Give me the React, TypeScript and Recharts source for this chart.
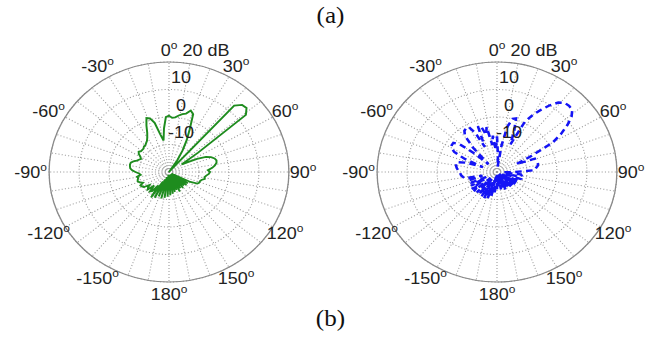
import React from "react";
import { RadarChart, Radar, PolarGrid, PolarAngleAxis, PolarRadiusAxis } from "recharts";

// angle in degrees, clockwise from the top (0 = broadside)
const ANGLES = [
  0, 3, 6, 9, 12, 15, 18, 21, 24, 27, 30, 33, 36, 39, 42, 45, 48, 51, 54, 57,
  60, 63, 66, 69, 72, 75, 78, 81, 84, 87, 90, 93, 96, 99, 102, 105, 108, 111, 114, 117,
  120, 123, 126, 129, 132, 135, 138, 141, 144, 147, 150, 153, 156, 159, 162, 165, 168, 171, 174, 177,
  180, 183, 186, 189, 192, 195, 198, 201, 204, 207, 210, 213, 216, 219, 222, 225, 228, 231, 234, 237,
  240, 243, 246, 249, 252, 255, 258, 261, 264, 267, 270, 273, 276, 279, 282, 285, 288, 291, 294, 297,
  300, 303, 306, 309, 312, 315, 318, 321, 324, 327, 330, 333, 336, 339, 342, 345, 348, 351, 354, 357,
];

// (a) solid green pattern, dB
const GREEN = [
  0.5, -0.3, 0, 0.8, 1.5, 2, 3.5, 2.5, -3, -7, -11, -15, -20, -19, 12.5, 14.5, 14.8, 13, -8, -15,
  -13, -9.5, -6.5, -5, -4, -3.6, -3.8, -4.5, -5.5, -7, -6.3, -6.7, -7.5, -8, -7.8, -8.8, -9.2, -9.2, -9.6, -12,
  -18, -12.5, -19, -12.5, -18, -13, -19, -12.5, -19, -13, -19, -12, -19, -13, -19, -12.5, -19, -12, -19, -11.5,
  -19, -11, -19, -10.5, -18, -10, -18, -10.5, -17, -9.5, -16, -9, -14, -11, -10.5, -13, -10.5, -11, -12, -10,
  -9.5, -9.3, -10.5, -9.5, -9, -9.2, -9.5, -9.2, -10.5, -10, -8.8, -7.7, -7, -6.8, -6.7, -6.8, -7.5, -8.5, -9, -9.5,
  -9, -8, -7.5, -8, -8, -8, -7.5, -7.5, -7, -6.5, -5.5, -4, -1.5, 1, 0.5, -1.5, -6, -8.4, -4, 0,
];

// (b) dashed blue pattern, dB
const BLUE = [
  -7, -14, -18, -10, -3, 0, 0.5, -4, -9, 0.5, 4, 7, 10, 12.5, 13.8, 14, 13.8, 12, 9, 5.5,
  1.5, -7, -13, -6.5, -6.5, -6, -6, -6.3, -7, -7.5, -14, -18, -12, -11.7, -12, -17, -11.5, -11.5, -12, -18,
  -12.5, -19, -12.5, -18, -13, -19, -12.6, -18, -13, -19, -13.5, -18, -13, -19, -14, -19, -13.5, -18, -14, -19,
  -13, -18, -12, -19, -11, -17, -10, -16, -9.5, -15, -9.7, -17, -10, -16, -10, -17, -9.6, -12, -9.6, -15,
  -10, -16, -10.5, -10, -10, -15, -9, -8.5, -8, -7.8, -7.6, -7, -6.5, -6.2, -6, -6.1, -9, -15, -8, -4,
  -2.5, -2, -2, -4, -10, -16, -8, -3, -1.5, -1, -1.1, -4, -10, -2.5, -2.3, -6, -3.3, -10, -6.7, -12,
];

const SPOKES = [0, 10, 20, 30, 40, 50, 60, 70, 80, 90, 100, 110, 120, 130, 140, 150, 160, 170,
  180, 190, 200, 210, 220, 230, 240, 250, 260, 270, 280, 290, 300, 310, 320, 330, 340, 350];
const DB_DOMAIN = [-20, 20];

const data = ANGLES.map((a, i) => ({ angle: a, green: GREEN[i], blue: BLUE[i] }));

const W = 320;
const H = 300;
const CX = 160;
const CY = 150;
const R = 110;
const SX = 1.09;
const FONT = "'Liberation Sans', Arial, sans-serif";

function AngleTick({ payload }: any) {
  const a = Number(payload.value);
  if (a % 30 !== 0) return <g />;
  const rad = (a * Math.PI) / 180;
  const label = a > 180 ? a - 360 : a;
  const x = CX + Math.sin(rad) * 123 - (label < 0 ? 4 : 0);
  const y = CY - Math.cos(rad) * 122 + 6;
  return (
    <text x={x} y={y} textAnchor="middle" fontSize={16.5} fill="#222" fontFamily={FONT}>
      {label}
      <tspan dy={-7} fontSize={11}>o</tspan>
    </text>
  );
}

function RadiusTick({ x, y, payload }: any) {
  const v = payload.value;
  if (v === -20) return <g />;
  if (v === 20) {
    return (
      <text x={x + 12.4} y={y - 5.5} fontSize={16.5} fill="#222" fontFamily={FONT}>20 dB</text>
    );
  }
  return (
    <text x={x + 11} y={y - 6} textAnchor="middle" fontSize={16.5} fill="#222" fontFamily={FONT}>{v}</text>
  );
}

function Polar({ left, top, dataKey, color, dash, width }: any) {
  return (
    <div
      style={{
        position: "absolute",
        left: left - CX,
        top: top - CY,
        width: W,
        height: H,
        transform: `scaleX(${SX})`,
        transformOrigin: `${CX}px ${CY}px`,
      }}
    >
      <RadarChart
        width={W}
        height={H}
        data={data}
        cx={CX}
        cy={CY}
        outerRadius={R}
        startAngle={90}
        endAngle={-270}
        margin={{ top: 0, right: 0, bottom: 0, left: 0 }}
      >
        <PolarGrid gridType="circle" polarAngles={SPOKES} stroke="#9a9a9a" strokeDasharray="1 2" strokeWidth={1} />
        <PolarGrid gridType="circle" polarRadius={[R]} radialLines={false} stroke="#8a8a8a" strokeWidth={1.2} />
        <PolarAngleAxis dataKey="angle" tick={<AngleTick />} axisLine={false} tickLine={false} />
        <PolarRadiusAxis
          angle={90}
          type="number"
          domain={DB_DOMAIN}
          tickCount={5}
          tick={<RadiusTick />}
          axisLine={false}
          tickLine={false}
        />
        <Radar
          dataKey={dataKey}
          stroke={color}
          strokeWidth={width}
          strokeDasharray={dash}
          fill="none"
          fillOpacity={0}
          dot={false}
          isAnimationActive={false}
        />
      </RadarChart>
    </div>
  );
}

export default function App() {
  const caption: React.CSSProperties = {
    position: "absolute",
    width: 653,
    textAlign: "center",
    left: 4,
    fontFamily: "'Liberation Serif', 'Times New Roman', serif",
    fontSize: 23,
    color: "#111",
    transform: "scaleX(1.09)",
  };
  return (
    <div style={{ position: "fixed", left: 0, top: 0, width: 653, height: 340, background: "#fff", overflow: "hidden" }}>
      <div style={{ ...caption, top: 3 }}>(a)</div>
      <Polar left={168.5} top={171.5} dataKey="green" color="#1e8c1e" width={1.8} />
      <Polar left={497} top={171.5} dataKey="blue" color="#1414f5" dash="6 4" width={2.4} />
      <div style={{ ...caption, top: 306 }}>(b)</div>
    </div>
  );
}
